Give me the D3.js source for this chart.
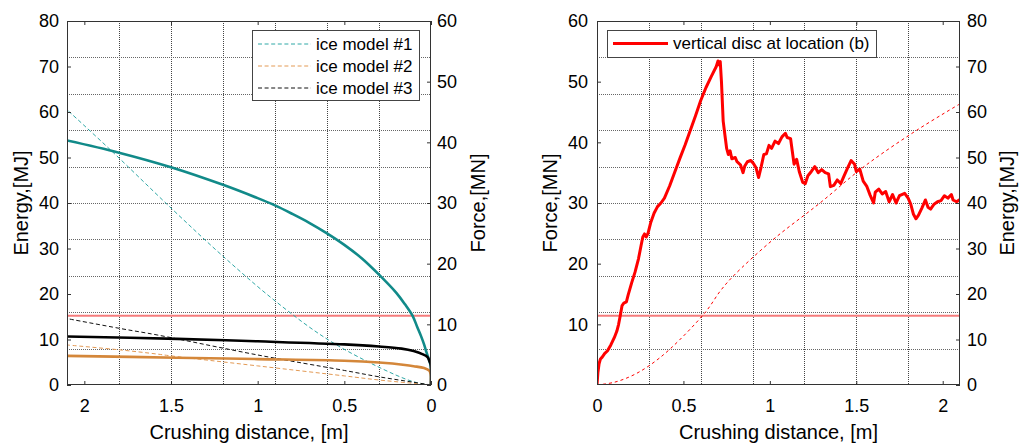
<!DOCTYPE html>
<html><head><meta charset="utf-8">
<script src="https://cdn.jsdelivr.net/npm/d3@7"></script>
<style>
html,body{margin:0;padding:0;background:#fff;}
svg{display:block;font-family:"Liberation Sans",Arial,sans-serif;}
</style></head>
<body>
<svg id="chart" width="1019" height="444"></svg>
<script>
// ---------------- DATA ----------------
// Left panel: force (MN) vs crushing distance (m), solid lines
const teal_force = [[0,0],[0.002,3.2],[0.01,4.0],[0.025,5.3],[0.04,6.7],[0.058,8.1],[0.08,9.6],[0.106,11.4],[0.15,13.3],[0.2,15.2],[0.3,18.2],[0.4,20.9],[0.5,23.1],[0.6,25.0],[0.7,26.7],[0.8,28.2],[0.9,29.6],[1.0,30.8],[1.2,33.0],[1.5,35.9],[1.8,38.3],[2.1,40.3]];
const orange_force = [[0,0],[0.002,1.8],[0.01,2.35],[0.04,2.8],[0.1,3.1],[0.15,3.3],[0.3,3.7],[0.5,4.0],[1.0,4.27],[1.465,4.5],[2.1,4.8]];
const black_force = [[0,0],[0.002,3.4],[0.01,4.0],[0.02,4.6],[0.05,5.1],[0.1,5.6],[0.17,6.0],[0.3,6.35],[0.5,6.7],[1.0,7.2],[1.465,7.6],[2.1,8.0]];
// Left panel: energy (MJ) vs crushing distance (m), dashed lines
const teal_energy = [[0,0],[0.1,0.7],[0.3,3.9],[0.6,10.1],[0.9,18.5],[1.2,28.3],[1.5,38.9],[1.85,51.7],[2.1,60.5]];
const orange_energy = [[0,0],[0.3,1.1],[0.5,2.0],[1.0,4.2],[1.5,6.4],[1.58,6.8],[1.79,7.7],[2.1,8.8]];
const black_energy = [[0,0],[0.1,0.6],[0.3,1.8],[0.5,3.2],[1.0,6.6],[1.58,11.0],[1.79,12.4],[2.1,14.6]];
// Right panel: vertical disc at location (b)
const disc_force = [[0,0],[0.005,2.0],[0.012,3.5],[0.02,4.3],[0.03,4.6],[0.045,5.2],[0.06,5.6],[0.08,6.6],[0.1,7.8],[0.115,8.9],[0.125,10.0],[0.135,11.5],[0.145,13.1],[0.155,13.5],[0.17,13.7],[0.18,14.8],[0.2,16.8],[0.22,18.6],[0.24,20.8],[0.255,23.0],[0.265,24.4],[0.275,24.9],[0.285,24.4],[0.295,25.0],[0.31,26.7],[0.33,28.3],[0.35,29.4],[0.37,30.0],[0.39,30.8],[0.42,32.8],[0.45,35.1],[0.48,37.4],[0.51,39.6],[0.54,42.0],[0.57,44.4],[0.6,46.9],[0.63,49.0],[0.66,50.8],[0.69,52.5],[0.7,53.4],[0.705,52.8],[0.713,53.3],[0.72,50.0],[0.73,43.5],[0.74,41.2],[0.75,39.0],[0.76,38.0],[0.77,38.6],[0.78,37.3],[0.8,37.5],[0.81,36.8],[0.83,36.3],[0.845,35.0],[0.855,36.1],[0.87,36.8],[0.89,37.0],[0.905,36.5],[0.92,35.8],[0.935,34.2],[0.95,36.0],[0.965,38.0],[0.98,38.1],[0.995,39.5],[1.01,39.0],[1.03,40.2],[1.05,39.8],[1.07,40.9],[1.09,41.5],[1.1,40.8],[1.12,40.6],[1.13,38.5],[1.14,36.4],[1.155,37.2],[1.17,35.2],[1.19,33.4],[1.205,33.2],[1.22,34.5],[1.24,35.2],[1.26,36.0],[1.28,35.0],[1.3,35.5],[1.32,35.0],[1.34,34.8],[1.35,32.7],[1.37,32.9],[1.39,33.8],[1.41,33.2],[1.43,34.5],[1.45,35.8],[1.47,37.0],[1.49,36.4],[1.5,35.2],[1.52,35.6],[1.54,33.6],[1.56,32.8],[1.58,31.3],[1.6,30.0],[1.61,31.8],[1.63,32.3],[1.65,31.5],[1.67,31.9],[1.69,30.2],[1.71,31.4],[1.73,30.0],[1.75,31.2],[1.78,31.6],[1.8,30.8],[1.815,29.8],[1.83,28.2],[1.845,27.4],[1.86,28.0],[1.88,29.2],[1.9,30.5],[1.915,29.3],[1.93,29.0],[1.95,29.8],[1.97,30.2],[1.99,30.4],[2.01,31.2],[2.03,30.8],[2.05,31.4],[2.06,30.5],[2.08,30.2],[2.1,30.6]];
const disc_energy = [[0,0],[0.1,0.6],[0.2,2.0],[0.3,4.2],[0.425,8.0],[0.627,16.0],[0.714,20.7],[0.79,24.0],[1.02,32.0],[1.29,40.0],[1.545,48.0],[1.85,56.0],[2.1,61.8]];
// Threshold force (MN)
const threshold_force = [11.4];
// Ticks / grid
const distTicks = [0, 0.5, 1, 1.5, 2];
const energyTicks = [0,10,20,30,40,50,60,70,80];
const forceTicksLeft = [0,10,20,30,40,50,60];
const forceTicksRight = [10,20,30,40,50,60];
const gridDist = [0.3,0.6,0.9,1.2,1.5,1.8];
const gridEnergy = [8,16,24,32,40,48,56,64,72];
const legendLeft = ["ice model #1","ice model #2","ice model #3"];
const legendRight = ["vertical disc at location (b)"];

// ---------------- DRAWING ----------------
const svg = d3.select("#chart");
const C = {teal:"#118a89", tealD:"#2fa8a6", orange:"#d4873a", orangeD:"#e39a55", black:"#000", red:"#ff0000", thr:"#f47c7c", frame:"#333", grid:"#444"};
const fs = 18, ft = 20;

function panel(o){
  const g = svg.append("g");
  const x = d3.scaleLinear().domain(o.xDomain).range([o.x0,o.x1]);
  const yL = d3.scaleLinear().domain(o.yLDomain).range([o.y1,o.y0]);
  const yR = d3.scaleLinear().domain(o.yRDomain).range([o.y1,o.y0]);
  const yE = o.energyOnLeft ? yL : yR;
  const yF = o.energyOnLeft ? yR : yL;
  // grid
  g.append("g").selectAll("line").data(gridDist).join("line")
    .attr("x1",d=>Math.round(x(d))+0.5).attr("x2",d=>Math.round(x(d))+0.5)
    .attr("y1",o.y0).attr("y2",o.y1)
    .attr("stroke",C.grid).attr("stroke-width",1).attr("stroke-dasharray","1,1");
  g.append("g").selectAll("line").data(gridEnergy).join("line")
    .attr("y1",d=>Math.round(yE(d))+0.5).attr("y2",d=>Math.round(yE(d))+0.5)
    .attr("x1",o.x0).attr("x2",o.x1)
    .attr("stroke","#666").attr("stroke-width",1).attr("stroke-dasharray","1,1");
  // threshold
  g.append("g").selectAll("line").data(threshold_force).join("line")
    .attr("x1",o.x0).attr("x2",o.x1).attr("y1",d=>yF(d)).attr("y2",d=>yF(d))
    .attr("stroke",C.thr).attr("stroke-width",2);
  // series
  const clipId = "clip"+o.id;
  svg.append("clipPath").attr("id",clipId).append("rect")
    .attr("x",o.x0).attr("y",o.y0-2).attr("width",o.x1-o.x0).attr("height",o.y1-o.y0+2);
  const sg = g.append("g").attr("clip-path",`url(#${clipId})`);
  o.series.forEach(s=>{
    const yS = s.kind==="energy" ? yE : yF;
    const line = d3.line().x(d=>x(d[0])).y(d=>yS(d[1])).curve(s.curve||d3.curveLinear);
    sg.append("path").datum(s.data).attr("d",line).attr("fill","none")
      .attr("stroke",s.color).attr("stroke-width",s.width)
      .attr("stroke-dasharray",s.dash||null).attr("stroke-linejoin","round");
  });
  // frame
  g.append("rect").attr("x",o.x0+0.5).attr("y",o.y0+0.5).attr("width",o.x1-o.x0-1).attr("height",o.y1-o.y0-1)
    .attr("fill","none").attr("stroke",C.frame).attr("stroke-width",1);
  const fmt = d=>String(d);
  const ax = (gen)=>gen.tickSizeOuter(0);
  const bottom = g.append("g").attr("transform",`translate(0,${o.y1})`)
    .call(ax(d3.axisBottom(x).tickValues(distTicks).tickFormat(fmt).tickSizeInner(-4).tickPadding(14)));
  const top = g.append("g").attr("transform",`translate(0,${o.y0})`)
    .call(ax(d3.axisTop(x).tickValues(distTicks).tickFormat("").tickSizeInner(-4)));
  const left = g.append("g").attr("transform",`translate(${o.x0},0)`)
    .call(ax(d3.axisLeft(yL).tickValues(o.leftTicks).tickFormat(fmt).tickSizeInner(-4).tickPadding(o.leftPad)));
  const right = g.append("g").attr("transform",`translate(${o.x1},0)`)
    .call(ax(d3.axisRight(yR).tickValues(o.rightTicks).tickFormat(fmt).tickSizeInner(-4).tickPadding(o.rightPad)));
  [bottom,top,left,right].forEach(a=>{
    a.select(".domain").remove();
    a.selectAll(".tick line").attr("stroke",C.frame);
    a.selectAll("text").attr("font-size",fs).attr("fill","#000").attr("font-family","Liberation Sans, Arial, sans-serif");
  });
  // titles
  const cx=(o.x0+o.x1)/2, cy=(o.y0+o.y1)/2;
  g.append("text").attr("x",cx).attr("y",439).attr("text-anchor","middle").attr("font-size",ft).attr("fill","#000")
    .text("Crushing distance, [m]");
  g.append("text").attr("transform",`translate(${o.leftTitleX},${cy}) rotate(-90)`).attr("text-anchor","middle")
    .attr("font-size",ft).attr("fill","#000").text(o.leftTitle);
  g.append("text").attr("transform",`translate(${o.rightTitleX},${cy}) rotate(-90)`).attr("text-anchor","middle")
    .attr("font-size",ft).attr("fill","#000").text(o.rightTitle);
  // legend
  const L = o.legend;
  const lg = g.append("g");
  lg.append("rect").attr("x",L.x+0.5).attr("y",L.y+0.5).attr("width",L.w).attr("height",L.h)
    .attr("fill","#fff").attr("stroke","#444").attr("stroke-width",1);
  L.items.forEach((it,i)=>{
    const yy = L.y + L.first + i*L.step;
    lg.append("line").attr("x1",L.x+6).attr("x2",L.x+6+L.lineLen).attr("y1",yy).attr("y2",yy)
      .attr("stroke",it.color).attr("stroke-width",it.width).attr("stroke-dasharray",it.dash||null);
    lg.append("text").attr("x",L.x+L.lineLen+11).attr("y",yy).attr("dy","0.35em")
      .attr("font-size",17).attr("fill","#000").text(it.label);
  });
}

const smooth = d3.curveCatmullRom.alpha(0.5);
panel({
  id:"L", x0:67, x1:431, y0:21, y1:385, xDomain:[2.1,0], yLDomain:[0,80], yRDomain:[0,60], energyOnLeft:true,
  leftTicks:energyTicks, rightTicks:forceTicksLeft, leftPad:8, rightPad:6,
  leftTitle:"Energy,[MJ]", leftTitleX:28, rightTitle:"Force,[MN]", rightTitleX:485,
  series:[
    {data:teal_energy, kind:"energy", color:C.tealD, width:1, dash:"4,2.6", curve:smooth},
    {data:orange_energy, kind:"energy", color:C.orangeD, width:1, dash:"4,2.6", curve:smooth},
    {data:black_energy, kind:"energy", color:"#111", width:1, dash:"4,2.6", curve:smooth},
    {data:teal_force, kind:"force", color:C.teal, width:2.6, curve:smooth},
    {data:orange_force, kind:"force", color:C.orange, width:2.6, curve:smooth},
    {data:black_force, kind:"force", color:C.black, width:2.6, curve:smooth}
  ],
  legend:{x:252,y:30,w:167,h:70,first:14,step:22,lineLen:53,items:[
    {label:legendLeft[0],color:C.tealD,width:1,dash:"4,2.6"},
    {label:legendLeft[1],color:C.orangeD,width:1,dash:"4,2.6"},
    {label:legendLeft[2],color:"#111",width:1,dash:"4,2.6"}
  ]}
});
panel({
  id:"R", x0:597, x1:960, y0:21, y1:385, xDomain:[0,2.1], yLDomain:[0,60], yRDomain:[0,80], energyOnLeft:false,
  leftTicks:forceTicksRight, rightTicks:energyTicks, leftPad:9, rightPad:7,
  leftTitle:"Force,[MN]", leftTitleX:557, rightTitle:"Energy,[MJ]", rightTitleX:1014,
  series:[
    {data:disc_energy, kind:"energy", color:C.red, width:1, dash:"3,3", curve:smooth},
    {data:disc_force, kind:"force", color:C.red, width:3}
  ],
  legend:{x:607,y:30,w:269,h:27,first:13.5,step:22,lineLen:55,items:[
    {label:legendRight[0],color:C.red,width:3}
  ]}
});
</script>
</body></html>
